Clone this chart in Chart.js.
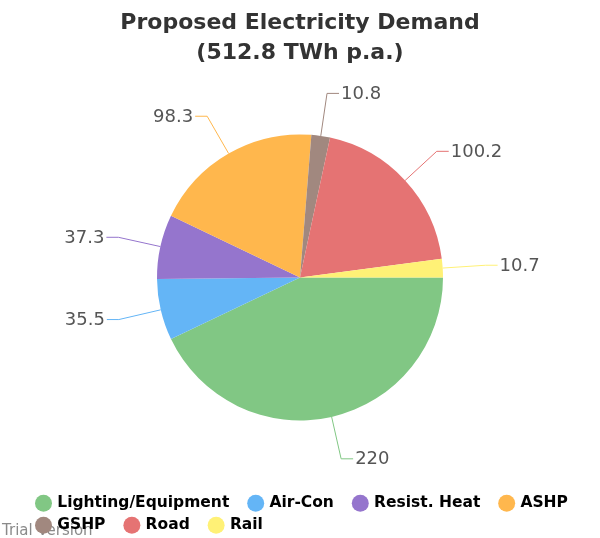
<!DOCTYPE html>
<html>
<head>
<meta charset="utf-8">
<script src="https://cdn.jsdelivr.net/npm/chart.js@4.4.0/dist/chart.umd.min.js"></script>
<style>
  html, body { margin: 0; padding: 0; background: #fff; }
  #wrap { width: 600px; height: 538px; }
</style>
</head>
<body>
<div id="wrap"><canvas id="chart"></canvas></div>
<script>
var categories = ['Lighting/Equipment', 'Air-Con', 'Resist. Heat', 'ASHP', 'GSHP', 'Road', 'Rail'];
var demand = [220, 35.5, 37.3, 98.3, 10.8, 100.2, 10.7];
var colors = ['#81c784', '#64b5f6', '#9575cd', '#ffb74d', '#a1887f', '#e57373', '#fff176'];
var titleLines = ['Proposed Electricity Demand', '(512.8 TWh p.a.)'];

// value labels with leader lines outside the pie
var leaderLabels = {
    id: 'leaderLabels',
    afterDatasetsDraw: function (chart) {
        var ctx = chart.ctx;
        var meta = chart.getDatasetMeta(0);
        ctx.save();
        ctx.font = '18px "DejaVu Sans"';
        ctx.textBaseline = 'middle';
        meta.data.forEach(function (arc, i) {
            var p = arc.getProps(['x', 'y', 'startAngle', 'endAngle', 'outerRadius'], true);
            var mid = (p.startAngle + p.endAngle) / 2;
            var c = Math.cos(mid), s = Math.sin(mid);
            var x0 = p.x + p.outerRadius * c, y0 = p.y + p.outerRadius * s;
            var x1 = p.x + (p.outerRadius + 43) * c, y1 = p.y + (p.outerRadius + 43) * s;
            var dir = c >= 0 ? 1 : -1;
            var x2 = x1 + dir * 12;
            ctx.strokeStyle = colors[i];
            ctx.lineWidth = 1;
            ctx.beginPath();
            ctx.moveTo(x0, y0);
            ctx.lineTo(x1, y1);
            ctx.lineTo(x2, y1);
            ctx.stroke();
            ctx.fillStyle = '#555';
            ctx.textAlign = dir > 0 ? 'left' : 'right';
            ctx.fillText(String(demand[i]), x2 + dir * 2, y1 + 1);
        });
        ctx.restore();
    }
};

// trial watermark under the legend
var trialText = {
    id: 'trialText',
    beforeDraw: function (chart) {
        var ctx = chart.ctx;
        ctx.save();
        ctx.font = '15px "DejaVu Sans"';
        ctx.fillStyle = '#8a8a8a';
        ctx.textAlign = 'left';
        ctx.textBaseline = 'alphabetic';
        ctx.fillText('Trial Version', 2, 535);
        ctx.restore();
    }
};

// legend block sits further in from the left and a bit lower
var legendShift = {
    id: 'legendShift',
    afterLayout: function (chart) {
        chart.legend.left += 31;
        chart.legend.top += 5;
        chart.legend.bottom += 5;
    }
};

new Chart(document.getElementById('chart'), {
    type: 'pie',
    data: {
        labels: categories,
        datasets: [{
            data: demand,
            backgroundColor: colors,
            borderWidth: 0,
            radius: 143
        }]
    },
    options: {
        responsive: true,
        maintainAspectRatio: false,
        animation: false,
        rotation: 90,
        layout: { padding: 0 },
        plugins: {
            title: {
                display: true,
                text: titleLines,
                color: '#333',
                font: { family: '"DejaVu Sans"', size: 22, weight: 'bold', lineHeight: 1.36 },
                padding: { top: 8, bottom: 3 }
            },
            legend: {
                position: 'bottom',
                align: 'start',
                labels: {
                    usePointStyle: true,
                    pointStyle: 'circle',
                    boxWidth: 12,
                    boxHeight: 12,
                    padding: 6.5,
                    color: '#333',
                    font: { family: '"DejaVu Sans"', size: 15.5, weight: 'bold' },
                    generateLabels: function (chart) {
                        return categories.map(function (name, i) {
                            return {
                                text: name + '  \u2009',
                                fillStyle: colors[i],
                                strokeStyle: colors[i],
                                lineWidth: 0,
                                pointStyle: 'circle',
                                hidden: false,
                                index: i
                            };
                        });
                    }
                }
            },
            tooltip: { enabled: false }
        }
    },
    plugins: [trialText, leaderLabels, legendShift]
});
</script>
</body>
</html>
